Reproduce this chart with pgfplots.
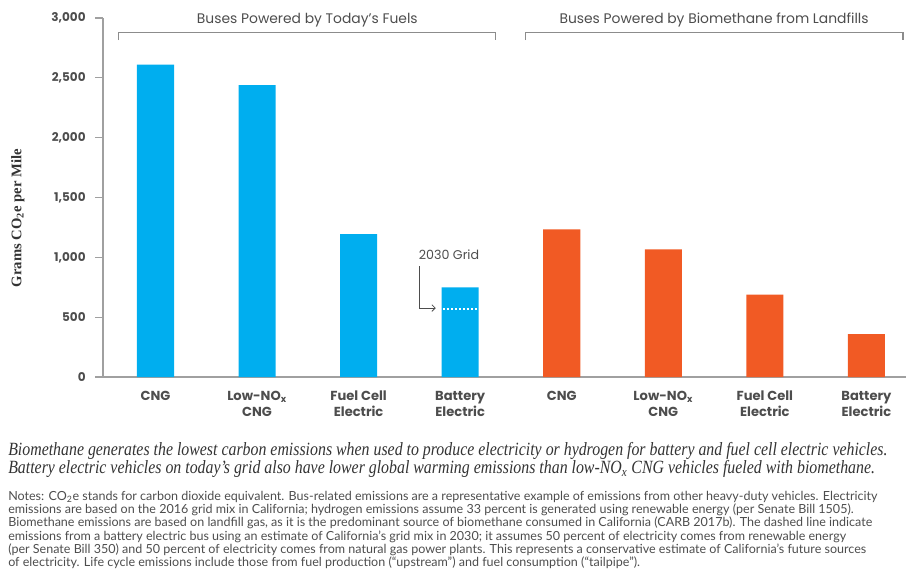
\documentclass[border=0pt]{standalone}
\usepackage{fontspec}
\setmainfont{Liberation Serif}
\setsansfont{Poppins}
\newfontfamily\notefont{Lato}
\newfontfamily\capfont{Liberation Serif}[FakeStretch=0.85]
\usepackage{pgfplots}
\pgfplotsset{compat=1.18}
\usetikzlibrary{arrows.meta}
\definecolor{ucsblue}{HTML}{00AEEF}
\definecolor{ucsorange}{HTML}{F15A24}
\definecolor{txtgray}{HTML}{4D4D4D}
\definecolor{darktxt}{HTML}{333333}
\definecolor{axgray}{HTML}{A0A0A0}
\definecolor{brgray}{HTML}{8C8C8C}
\begin{document}
\begin{tikzpicture}[x=1pt,y=1pt]
\path[use as bounding box] (0,0) rectangle (679.5,426.75);
\begin{axis}[
  at={(77.25pt,144pt)}, anchor=south west,
  scale only axis, width=602.25pt, height=269.25pt,
  xmin=-0.517, xmax=7.39, ymin=0, ymax=3000,
  clip=false,
  axis lines=left,
  axis line style={axgray, line width=1.1pt, -},
  ytick={0,500,...,3000},
  xtick={0,...,7},
  xticklabels={CNG, Low-NO\textsubscript{x}\\CNG, Fuel Cell\\Electric, Battery\\Electric, CNG, Low-NO\textsubscript{x}\\CNG, Fuel Cell\\Electric, Battery\\Electric},
  xtick style={draw=none},
  ytick style={axgray, line width=0.8pt},
  tick align=outside,
  major tick length=6pt,
  yticklabel style={font=\sffamily\bfseries\fontsize{9}{10}\selectfont, text=txtgray, xshift=-3.5pt},
  xticklabel style={font=\sffamily\bfseries\fontsize{9.8}{12}\selectfont, text=txtgray, align=center, yshift=-1pt},
  /pgf/number format/1000 sep={,},
  /pgf/number format/assume math mode=true,
  ylabel={Grams CO\textsubscript{2}e per Mile},
  ylabel style={at={(axis description cs:-0.106,0.443)}, anchor=center, font=\bfseries\fontsize{11}{13}\selectfont, text=darktxt},
]
\addplot[ybar, fill=ucsblue, draw=none, bar width=0.365] coordinates {(0,2610) (1,2440) (2,1195) (3,749)};
\addplot[ybar, fill=ucsorange, draw=none, bar width=0.365] coordinates {(4,1234) (5,1067) (6,688) (7,359)};
\addplot[white, line width=1.5pt, dash pattern=on 1.5pt off 1.5pt] coordinates {(2.83,570) (3.17,570)};
% 2030 Grid annotation
\node[font=\sffamily\fontsize{9.5}{11}\selectfont, text=txtgray] at (axis cs:2.89,1019) {2030 Grid};
\draw[txtgray, line width=0.6pt, -{Straight Barb[length=2.5pt,width=5pt]}] (axis cs:2.594,927) -- (axis cs:2.594,576) -- (axis cs:2.76,576);
% group brackets
\draw[brgray, line width=0.8pt] (axis cs:-0.36,2815) -- (axis cs:-0.36,2882) -- (axis cs:3.35,2882) -- (axis cs:3.35,2815);
\draw[brgray, line width=0.8pt] (axis cs:3.645,2815) -- (axis cs:3.645,2882) -- (axis cs:7.36,2882) -- (axis cs:7.36,2815);
\node[font=\sffamily\fontsize{10.4}{12}\selectfont, text=txtgray] at (axis cs:1.495,2985) {Buses Powered by Today's Fuels};
\node[font=\sffamily\fontsize{10.4}{12}\selectfont, text=txtgray] at (axis cs:5.50,2985) {Buses Powered by Biomethane from Landfills};
\end{axis}
\node[anchor=north west, inner sep=0, align=left, font=\capfont\itshape\fontsize{14}{13.5}\selectfont, text=darktxt] at (6,95)
 {Biomethane generates the lowest carbon emissions when used to produce electricity or hydrogen for battery and fuel cell electric vehicles.\\
  Battery electric vehicles on today’s grid also have lower global warming emissions than low-NO\textsubscript{x} CNG vehicles fueled with biomethane.};
\node[anchor=north west, inner sep=0, align=left, font=\notefont\fontsize{9.4}{9.9}\selectfont, text=txtgray] at (6,58.5)
 {Notes: CO\textsubscript{2}e stands for carbon dioxide equivalent. Bus-related emissions are a representative example of emissions from other heavy-duty vehicles. Electricity\\
  emissions are based on the 2016 grid mix in California; hydrogen emissions assume 33 percent is generated using renewable energy (per Senate Bill 1505).\\
  Biomethane emissions are based on landfill gas, as it is the predominant source of biomethane consumed in California (CARB 2017b). The dashed line indicate\\
  emissions from a battery electric bus using an estimate of California’s grid mix in 2030; it assumes 50 percent of electricity comes from renewable energy\\
  (per Senate Bill 350) and 50 percent of electricity comes from natural gas power plants. This represents a conservative estimate of California’s future sources\\
  of electricity. Life cycle emissions include those from fuel production (“upstream”) and fuel consumption (“tailpipe”).};
\end{tikzpicture}
\end{document}
